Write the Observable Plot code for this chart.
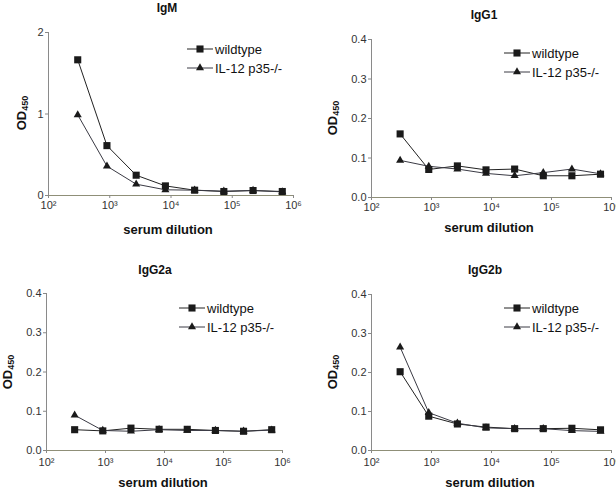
<!DOCTYPE html>
<html>
<head>
<meta charset="utf-8">
<script src="https://cdn.jsdelivr.net/npm/d3@7"></script>
<script src="https://cdn.jsdelivr.net/npm/@observablehq/plot@0.6"></script>
<style>
  html, body { margin: 0; padding: 0; background: #fff; }
  #root { position: relative; width: 616px; height: 489px; overflow: hidden; background: #fff;
          font-family: "Liberation Sans", Arial, Helvetica, sans-serif; color: #111; }
  .panel { position: absolute; width: 308px; height: 245px; }
  .panel svg { position: absolute; left: 0; top: 0; overflow: visible; }
  .t { position: absolute; white-space: nowrap; transform: translate(-50%, -50%); }
  .title { font-weight: bold; font-size: 12px; }
  .xlab { font-weight: bold; font-size: 13px; }
  .ylab { font-weight: bold; font-size: 13px; transform: translate(-50%, -50%) rotate(-90deg); }
  .ylab sub { font-size: 9px; vertical-align: -2px; }
  .legend { position: absolute; }
</style>
</head>
<body>
<div id="root"></div>
<script>
// ---- data ----
const dilutions = [300, 900, 2700, 8100, 24300, 72900, 218700, 656100];
const seriesNames = ["wildtype", "IL-12 p35-/-"];
const panelNames = ["IgM", "IgG1", "IgG2a", "IgG2b"];

const igmWildtype = [1.665, 0.612, 0.249, 0.118, 0.065, 0.049, 0.061, 0.049];
const igmKnockout = [0.99, 0.36, 0.139, 0.07, 0.065, 0.053, 0.061, 0.045];

const igg1Wildtype = [0.161, 0.071, 0.080, 0.070, 0.072, 0.055, 0.055, 0.059];
const igg1Knockout = [0.094, 0.079, 0.072, 0.061, 0.055, 0.063, 0.072, 0.060];

const igg2aWildtype = [0.053, 0.050, 0.057, 0.054, 0.054, 0.051, 0.049, 0.053];
const igg2aKnockout = [0.090, 0.051, 0.049, 0.053, 0.051, 0.051, 0.049, 0.052];

const igg2bWildtype = [0.202, 0.088, 0.068, 0.060, 0.056, 0.056, 0.057, 0.053];
const igg2bKnockout = [0.265, 0.097, 0.070, 0.058, 0.056, 0.056, 0.051, 0.049];

const xTicks = [1e2, 1e3, 1e4, 1e5, 1e6];
const xTickLabels = ["10\u00B2", "10\u00B3", "10\u2074", "10\u2075", "10\u2076"];
const yTicksIgM = [0, 1, 2];
const yTickLabelsIgM = ["0", "1", "2"];
const yTicksIgG = [0, 0.1, 0.2, 0.3, 0.4];
const yTickLabelsIgG = ["0.0", "0.1", "0.2", "0.3", "0.4"];

// ---- layout (per panel) ----
const panels = [
  { name: panelNames[0], wild: igmWildtype, ko: igmKnockout, yMax: 2, yTicks: yTicksIgM, yLabels: yTickLabelsIgM,
    left: 0, top: 0, h: 245, m: { l: 48, r: 15, t: 32, b: 50 }, xPad: 3,
    title: [167, 8], xlab: [168, 229], ylab: [22, 113], legend: [187, 49] },
  { name: panelNames[1], wild: igg1Wildtype, ko: igg1Knockout, yMax: 0.4, yTicks: yTicksIgG, yLabels: yTickLabelsIgG,
    left: 308, top: 0, h: 245, m: { l: 63, r: 5, t: 39, b: 48 }, xPad: 3,
    title: [176, 15], xlab: [181, 227], ylab: [25, 118], legend: [196, 53] },
  { name: panelNames[2], wild: igg2aWildtype, ko: igg2aKnockout, yMax: 0.4, yTicks: yTicksIgG, yLabels: yTickLabelsIgG,
    left: 0, top: 245, h: 244, m: { l: 46, r: 26, t: 48, b: 39 }, xPad: 5,
    title: [155, 25], xlab: [163, 237], ylab: [8, 127], legend: [179, 63] },
  { name: panelNames[3], wild: igg2bWildtype, ko: igg2bKnockout, yMax: 0.4, yTicks: yTicksIgG, yLabels: yTickLabelsIgG,
    left: 308, top: 245, h: 244, m: { l: 63, r: 5, t: 49, b: 39 }, xPad: 5,
    title: [177, 25], xlab: [182, 237], ylab: [25, 127], legend: [196, 63] }
];

const root = document.getElementById("root");
const lineColors = ["#222", "#3a3a44"];
const markFill = "#1a1a1a";
const squareR = 4;
const triangleR = 3;

function addText(parent, cls, x, y, html) {
  const d = document.createElement("div");
  d.className = "t " + cls;
  d.style.left = x + "px";
  d.style.top = y + "px";
  d.innerHTML = html;
  parent.appendChild(d);
}

for (const p of panels) {
  const div = document.createElement("div");
  div.className = "panel";
  div.style.left = p.left + "px";
  div.style.top = p.top + "px";
  div.style.height = p.h + "px";
  root.appendChild(div);

  const rows = [];
  dilutions.forEach((d, i) => rows.push({ dilution: d, od: p.wild[i], series: seriesNames[0] }));
  dilutions.forEach((d, i) => rows.push({ dilution: d, od: p.ko[i], series: seriesNames[1] }));

  const chart = Plot.plot({
    width: 308,
    height: p.h,
    marginLeft: p.m.l, marginRight: p.m.r, marginTop: p.m.t, marginBottom: p.m.b,
    style: { fontFamily: "Liberation Sans, Arial, sans-serif", fontSize: "11px", color: "#333", background: "transparent" },
    x: { type: "log", domain: [1e2, 1e6] },
    y: { domain: [0, p.yMax] },
    color: { domain: seriesNames, range: lineColors },
    marks: [
      Plot.ruleY([0], { stroke: "#8f8f78", strokeWidth: 1 }),
      Plot.ruleX([1e2], { stroke: "#8a8a8a", strokeWidth: 1 }),
      Plot.axisX({ ticks: xTicks, tickFormat: (d) => xTickLabels[xTicks.indexOf(d)], tickSize: 3, tickPadding: p.xPad,
                   stroke: "#888", fill: "#333", label: null }),
      Plot.axisY({ ticks: p.yTicks, tickFormat: (d) => p.yLabels[p.yTicks.indexOf(d)], tickSize: 3, tickPadding: 2,
                   stroke: "#888", fill: "#333", label: null }),
      Plot.line(rows, { x: "dilution", y: "od", z: "series", stroke: "series", strokeWidth: 1 }),
      Plot.dot(rows, { filter: (d) => d.series === seriesNames[1], x: "dilution", y: "od", symbol: "triangle",
                       fill: markFill, stroke: "none", r: triangleR }),
      Plot.dot(rows, { filter: (d) => d.series === seriesNames[0], x: "dilution", y: "od", symbol: "square",
                       fill: markFill, stroke: "none", r: squareR })
    ]
  });
  div.appendChild(chart);

  addText(div, "title", p.title[0], p.title[1], p.name);
  addText(div, "xlab", p.xlab[0], p.xlab[1], "serum dilution");
  addText(div, "ylab", p.ylab[0], p.ylab[1], "OD<sub>450</sub>");

  // legend
  const lg = d3.select(div).append("svg")
    .attr("class", "legend")
    .attr("width", 110).attr("height", 40)
    .style("left", (p.legend[0]) + "px")
    .style("top", (p.legend[1] - 8) + "px");
  seriesNames.forEach((s, i) => {
    const g = lg.append("g").attr("transform", `translate(0,${8 + i * 19})`);
    g.append("line").attr("x1", 0).attr("x2", 26).attr("y1", 0).attr("y2", 0)
      .attr("stroke", lineColors[i]).attr("stroke-width", 1);
    const sym = i === 0 ? d3.symbolSquare : d3.symbolTriangle;
    const r = i === 0 ? squareR : triangleR;
    g.append("path").attr("d", d3.symbol(sym, Math.PI * r * r)())
      .attr("transform", "translate(13,0)").attr("fill", markFill);
    g.append("text").attr("x", 28).attr("y", 0).attr("dy", "0.35em")
      .attr("font-family", "Liberation Sans, Arial, sans-serif").attr("font-size", 13)
      .attr("fill", "#111").text(s);
  });
}
</script>
</body>
</html>
